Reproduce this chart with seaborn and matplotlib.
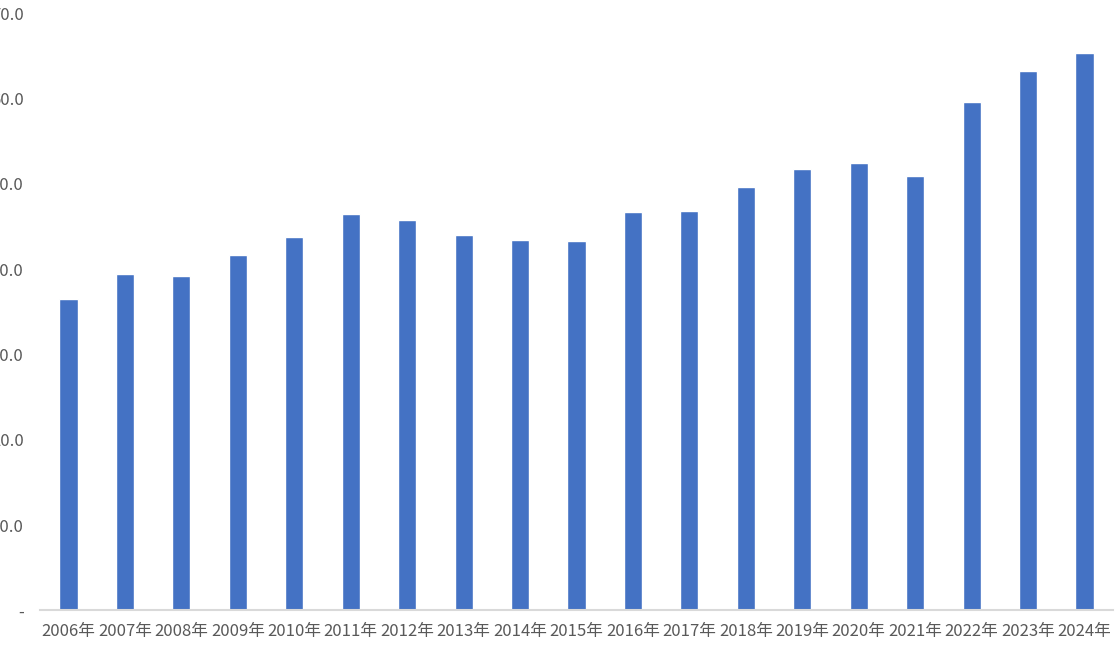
import matplotlib
matplotlib.use("Agg")
import matplotlib.pyplot as plt
import seaborn as sns
import pandas as pd

# values (y axis labels are cut off on the left, tens assumed)
years = ["2006年", "2007年", "2008年", "2009年", "2010年", "2011年", "2012年",
         "2013年", "2014年", "2015年", "2016年", "2017年", "2018年", "2019年",
         "2020年", "2021年", "2022年", "2023年", "2024年"]
values = [36.5, 39.4, 39.2, 41.6, 43.8, 46.4, 45.7, 44.0, 43.4, 43.3,
          46.7, 46.8, 49.6, 51.7, 52.4, 50.9, 59.6, 63.2, 65.3]
y_ticks = [0, 10, 20, 30, 40, 50, 60, 70]
y_tick_labels = ["-", "10.0", "20.0", "30.0", "40.0", "50.0", "60.0", "70.0"]

df = pd.DataFrame({"year": years, "value": values})

sns.set_style("white")
plt.rcParams["font.family"] = ["Noto Sans CJK SC", "DejaVu Sans"]

fig = plt.figure(figsize=(11.19, 6.47), dpi=100)
ax = fig.add_axes([0.036, 0.0565, 0.9584, 0.9234])

sns.barplot(data=df, x="year", y="value", color="#4472C4", width=0.32,
            saturation=1, ax=ax)

ax.set_xlim(-0.5, len(years) - 0.5)
ax.set_ylim(0, 70)
ax.set_yticks(y_ticks)
ax.set_yticklabels(y_tick_labels)
ax.set_xlabel("")
ax.set_ylabel("")

for s in ["top", "right", "left"]:
    ax.spines[s].set_visible(False)
ax.spines["bottom"].set_color("#d9d9d9")
ax.spines["bottom"].set_linewidth(1.5)

ax.tick_params(axis="y", length=0, pad=12, labelsize=12, labelcolor="#595959")
ax.tick_params(axis="x", length=0, pad=9, labelsize=12, labelcolor="#595959")

fig.savefig("out.png", dpi=100)
